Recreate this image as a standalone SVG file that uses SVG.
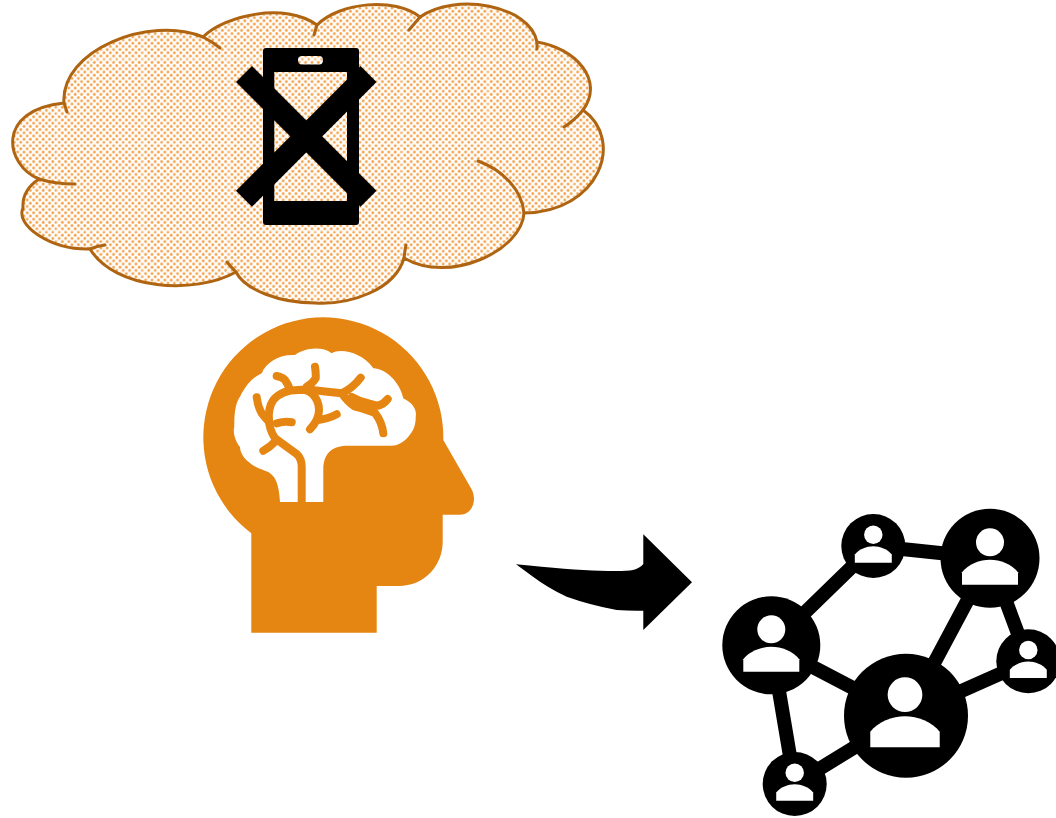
<svg xmlns="http://www.w3.org/2000/svg" width="1056" height="818" viewBox="0 0 1056 818">
<style>
.cl{fill:none;stroke:#AE6411;stroke-width:3;stroke-linecap:round;stroke-linejoin:round}
.v{fill:none;stroke:#E58512;stroke-width:8;stroke-linecap:round;stroke-linejoin:round}
.e{stroke:#000;stroke-width:14;fill:none}
.ph{fill:#fff}
.g{stroke:#fff;stroke-width:1;opacity:.55}
</style>
<defs>
<pattern id="dots" width="6.4" height="6.4" patternUnits="userSpaceOnUse">
<rect width="6.4" height="6.4" fill="#fff"/>
<circle cx="1.6" cy="1.6" r="1.5" fill="#F7B26B"/><circle cx="1.6" cy="1.6" r=".6" fill="#EE9025"/>
<circle cx="4.8" cy="4.8" r="1.5" fill="#F7B26B"/><circle cx="4.8" cy="4.8" r=".6" fill="#EE9025"/>
</pattern>
<path id="cloudshape" d="M64 103C60 50 150 15 203 37C225 15 285 2 317 25C340 2 395 -3 420 17C455 -8 530 5 537 42C575 48 605 80 583 110C625 140 600 212 524 213C522 250 450 285 404 258C395 290 350 305 315 303C280 303 245 290 236 272C195 295 115 290 90 249C50 250 15 225 23 208C22 195 30 185 39 179C5 165 -5 110 64 103Z"/>
<clipPath id="cloudclip"><use href="#cloudshape"/></clipPath>
<g id="person"><circle cx="0" cy="-16" r="14" class="ph"/><path class="ph" d="M-28 26.5V14C-22 6-10 1.5 0 1.5C10 1.5 22 6 28 14V26.5Z"/></g>
</defs>
<g id="cloud">
<use href="#cloudshape" fill="url(#dots)"/>
<g clip-path="url(#cloudclip)">
<path class="g" d="M57 0V310M143 0V310M229 0V310M315 0V310M402 0V310M488 0V310M574 0V310M0 59H620M0 144H620M0 231H620"/>
</g>
<use href="#cloudshape" fill="none" stroke="#AE6411" stroke-width="3" stroke-linejoin="round"/>
<path class="cl" d="M64 103L67 112M203 37Q213 42 220 48M317 25L314 35M420 17L409 30M537 42V49M583 110Q575 120 564 127M524 213C522 190 503 170 478 161M404 258Q405 250 406 245M236 272Q231 267 227 262M90 249Q97 246 105 245M39 179Q55 184 75 184"/>
</g>
<g id="phone">
<path fill="#000" fill-rule="evenodd" d="M266 48H356Q359 48 359 51V222Q359 225 356 225H266Q263 225 263 222V51Q263 48 266 48ZM274.300 72V201H347V72ZM302 56Q298 56 298 60Q298 64.500 302 64.500H319Q323 64.500 323 60Q323 56 319 56Z"/>
<path d="M244 74L368.500 198.700M244 198.700L368.500 74" stroke="#000" stroke-width="22.600" fill="none"/>
</g>
<g id="head">
<path fill="#E58512" fill-rule="evenodd" d="M251.300 632.700H376.700V586H398.300C425 586 442.700 565 442.700 541.700V514.700H460C472 514.700 478 500 471 488.300L443.300 440A120 120 0 1 0 251.300 533.300ZM280 502C279 485 276 474 265 470.700C250 466 240 456 240 447C234 440 233 430 234.300 426.700C234 412 236 402 240 396.700C246 385 252 378 261.700 373.300C266 362 280 354 295 355C300 350 320 344 331.700 353.300C340 348 362 352 373.300 368.300C385 368 400 382 403.300 398.300C413 403 417 410 415.700 416.700C416 425 413 432 408.300 436.700C403 443 397 445.700 391.700 445.700H348.300C333 445.700 323.300 452 323.300 470V502Z"/>
<path class="v" d="M301.700 506V466.700C301.700 460 300 457 296.700 454L275 438.300C271 432 269 426 269 420C268 410 270 405 273.300 400C280 392 289 390 298.300 390C305 389 310 391 313.300 395C318 400 319 405 319 410C319 418 315 424 310 429.300"/>
<path class="v" d="M256.700 397.300Q258 407 261.700 413.300Q265 418 269 421.700M276.700 423.300Q285 421 291.700 422.300M263.300 450.700Q270 447 275 441.700M276.700 376Q282 377 285 380Q288 384 290 390M315 366.700Q316 373 315.700 378.300Q313 383 306.700 386.700M298.300 390H311.700Q328 392 341.700 393.300Q353 388 360.700 377.700M341.700 393.300Q348 402 355 406.700Q368 410 375 413Q382 422 383.300 433.300M351.700 397Q360 402 368.300 403.300Q375 405 378.300 405.700Q384 404 387.700 399M318.300 420Q328 419 336.700 414.300"/>
</g>
<g id="arrow">
<path fill="#000" d="M516 564.300Q570 570 600 570.700Q625 571.500 633 570Q640 568 643.300 564V534.300L692 582.300L643.300 630V610.700Q630 611 616.700 610Q590 605 566.700 596.700Q548 588 533 576.700Z"/>
</g>
<g id="connectors">
<path class="e" d="M771.300 645.300L873.300 546M873.300 546L990 558.300M990 558.300L906 715.700M990 558.300L1028.300 661.300M1028.300 661.300L906 715.700M771.300 645.300L906 715.700M771.300 645.300L794.700 784M906 715.700L794.700 784"/>
</g>
<g id="n1"><circle cx="771.300" cy="645.300" r="49"/><use href="#person" x="771.300" y="645.300"/></g>
<g id="n2"><circle cx="873.300" cy="546" r="32"/><use href="#person" transform="translate(873.300 545.300) scale(.66)"/></g>
<g id="n3"><circle cx="990" cy="558.300" r="49.500"/><use href="#person" x="990" y="558.300"/></g>
<g id="n4"><circle cx="1028.300" cy="661.300" r="32"/><use href="#person" transform="translate(1028.300 660.600) scale(.66)"/></g>
<g id="n5"><circle cx="906" cy="715.700" r="62"/><use href="#person" transform="translate(905 714.500) scale(1.24)"/></g>
<g id="n6"><circle cx="794.700" cy="784" r="32"/><use href="#person" transform="translate(794.700 783.300) scale(.66)"/></g>
</svg>
